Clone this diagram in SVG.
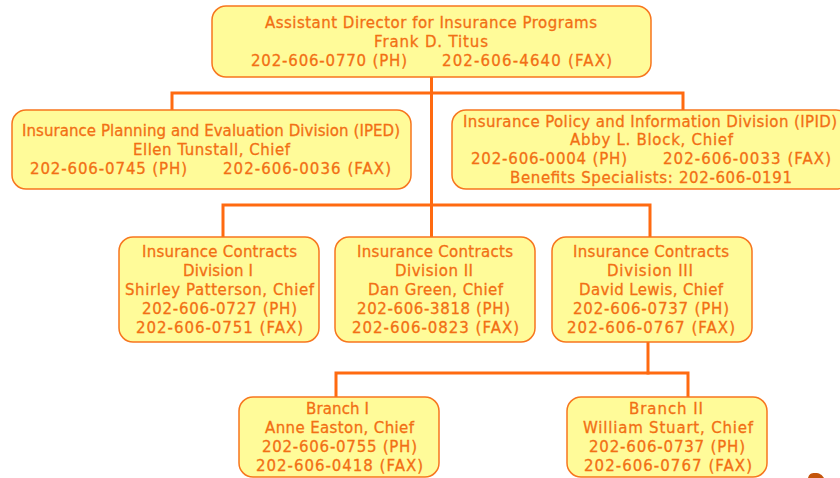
<svg xmlns="http://www.w3.org/2000/svg" width="840" height="478" viewBox="0 0 840 478">
  <style>
    .box { fill: #FFFB99; stroke: #F7761E; stroke-width: 1.5; }
    .wire { fill: none; stroke: #FF6A10; stroke-width: 3; stroke-linecap: square; stroke-linejoin: miter; }
    text { font-family: "DejaVu Sans", Verdana, sans-serif; font-size: 15px; fill: #F26F14; stroke: #F26F14; stroke-width: 0.3; }
    .c { text-anchor: middle; }
  </style>
  <rect width="840" height="478" fill="#FFFFFF"/>

  <!-- connectors -->
  <g id="connectors">
    <path class="wire" d="M431.5 77 V237"/>
    <path class="wire" d="M172 110 V93 H683 V110"/>
    <path class="wire" d="M223 237 V205 H650 V237"/>
    <path class="wire" d="M648 342 V373"/>
    <path class="wire" d="M336 397 V373 H688 V397"/>
  </g>

  <!-- Assistant Director -->
  <g id="assistant-director">
    <rect class="box" x="212" y="6" width="439" height="71" rx="14"/>
    <text x="265" y="28" textLength="332" lengthAdjust="spacing">Assistant Director for Insurance Programs</text>
    <text x="374" y="47" textLength="114" lengthAdjust="spacing">Frank D. Titus</text>
    <text x="251" y="66" textLength="156" lengthAdjust="spacing">202-606-0770 (PH)</text>
    <text x="442" y="66" textLength="170" lengthAdjust="spacing">202-606-4640 (FAX)</text>
  </g>

  <!-- IPED -->
  <g id="iped">
    <rect class="box" x="12" y="110" width="399" height="79" rx="14"/>
    <text x="22" y="136" textLength="378" lengthAdjust="spacing">Insurance Planning and Evaluation Division (IPED)</text>
    <text x="133" y="155" textLength="157" lengthAdjust="spacing">Ellen Tunstall, Chief</text>
    <text x="30" y="174" textLength="157" lengthAdjust="spacing">202-606-0745 (PH)</text>
    <text x="223" y="174" textLength="168" lengthAdjust="spacing">202-606-0036 (FAX)</text>
  </g>

  <!-- IPID -->
  <g id="ipid">
    <rect class="box" x="452" y="110" width="398" height="79" rx="14"/>
    <text x="463" y="127" textLength="374" lengthAdjust="spacing">Insurance Policy and Information Division (IPID)</text>
    <text x="570" y="145" textLength="163" lengthAdjust="spacing">Abby L. Block, Chief</text>
    <text x="471" y="164" textLength="156" lengthAdjust="spacing">202-606-0004 (PH)</text>
    <text x="663" y="164" textLength="168" lengthAdjust="spacing">202-606-0033 (FAX)</text>
    <text x="510" y="183" textLength="282" lengthAdjust="spacing">Benefits Specialists: 202-606-0191</text>
  </g>

  <!-- Contracts Division I -->
  <g id="contracts-div-1">
    <rect class="box" x="119" y="237" width="200" height="105" rx="14"/>
    <text x="142" y="257" textLength="155" lengthAdjust="spacing">Insurance Contracts</text>
    <text x="183" y="276" textLength="70" lengthAdjust="spacing">Division I</text>
    <text x="125" y="295" textLength="189" lengthAdjust="spacing">Shirley Patterson, Chief</text>
    <text x="142" y="314" textLength="155" lengthAdjust="spacing">202-606-0727 (PH)</text>
    <text x="136" y="333" textLength="167" lengthAdjust="spacing">202-606-0751 (FAX)</text>
  </g>

  <!-- Contracts Division II -->
  <g id="contracts-div-2">
    <rect class="box" x="335" y="237" width="200" height="105" rx="14"/>
    <text x="357" y="257" textLength="156" lengthAdjust="spacing">Insurance Contracts</text>
    <text x="395" y="276" textLength="78" lengthAdjust="spacing">Division II</text>
    <text x="368" y="295" textLength="135" lengthAdjust="spacing">Dan Green, Chief</text>
    <text x="357" y="314" textLength="153" lengthAdjust="spacing">202-606-3818 (PH)</text>
    <text x="352" y="333" textLength="167" lengthAdjust="spacing">202-606-0823 (FAX)</text>
  </g>

  <!-- Contracts Division III -->
  <g id="contracts-div-3">
    <rect class="box" x="552" y="237" width="200" height="105" rx="14"/>
    <text x="573" y="257" textLength="156" lengthAdjust="spacing">Insurance Contracts</text>
    <text x="607" y="276" textLength="86" lengthAdjust="spacing">Division III</text>
    <text x="579" y="295" textLength="144" lengthAdjust="spacing">David Lewis, Chief</text>
    <text x="573" y="314" textLength="156" lengthAdjust="spacing">202-606-0737 (PH)</text>
    <text x="567" y="333" textLength="168" lengthAdjust="spacing">202-606-0767 (FAX)</text>
  </g>

  <!-- Branch I -->
  <g id="branch-1">
    <rect class="box" x="239" y="397" width="200" height="80" rx="14"/>
    <text x="306" y="414" textLength="63" lengthAdjust="spacing">Branch I</text>
    <text x="265" y="433" textLength="149" lengthAdjust="spacing">Anne Easton, Chief</text>
    <text x="262" y="452" textLength="155" lengthAdjust="spacing">202-606-0755 (PH)</text>
    <text x="256" y="471" textLength="167" lengthAdjust="spacing">202-606-0418 (FAX)</text>
  </g>

  <!-- Branch II -->
  <g id="branch-2">
    <rect class="box" x="567" y="397" width="200" height="80" rx="14"/>
    <text x="629" y="414" textLength="74" lengthAdjust="spacing">Branch II</text>
    <text x="583" y="433" textLength="170" lengthAdjust="spacing">William Stuart, Chief</text>
    <text x="589" y="452" textLength="156" lengthAdjust="spacing">202-606-0737 (PH)</text>
    <text x="584" y="471" textLength="168" lengthAdjust="spacing">202-606-0767 (FAX)</text>
  </g>

  <!-- small mark at the lower edge -->
  <path d="M808 478 C809 474 811 473 815 473 C820 473 822 475 824 478 Z" fill="#C4540A"/>
</svg>
